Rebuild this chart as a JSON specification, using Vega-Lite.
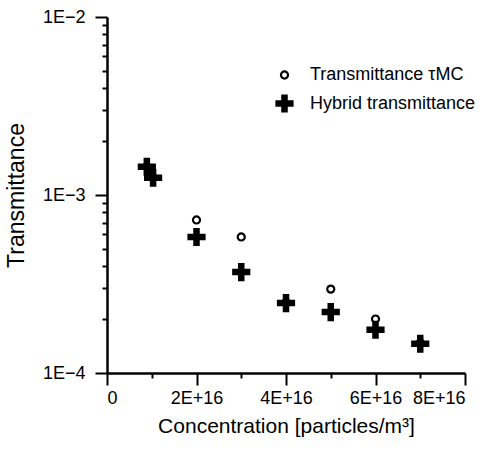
{
  "$schema": "https://vega.github.io/schema/vega-lite/v6.json",
  "width": 358,
  "height": 356,
  "autosize": {"type": "none"},
  "padding": {"left": 107, "top": 17, "right": 23, "bottom": 78},
  "background": "white",
  "config": {
    "view": {"stroke": null},
    "font": "Liberation Sans",
    "axis": {"grid": false, "domainColor": "black", "tickColor": "black", "labelColor": "black", "titleColor": "black", "labelFont": "Liberation Sans", "titleFont": "Liberation Sans", "titleFontWeight": "normal"},
    "legend": {"padding": 0}
  },
  "data": {
    "values": [
      {"series": "Transmittance τMC", "c": 0.89e16, "t": 1.44e-3},
      {"series": "Transmittance τMC", "c": 1.03e16, "t": 1.25e-3},
      {"series": "Transmittance τMC", "c": 2e16, "t": 7.24e-4},
      {"series": "Transmittance τMC", "c": 3e16, "t": 5.81e-4},
      {"series": "Transmittance τMC", "c": 4e16, "t": 2.5e-4},
      {"series": "Transmittance τMC", "c": 5e16, "t": 2.96e-4},
      {"series": "Transmittance τMC", "c": 6e16, "t": 2.01e-4},
      {"series": "Transmittance τMC", "c": 7e16, "t": 1.48e-4},
      {"series": "Hybrid transmittance", "c": 0.89e16, "t": 1.44e-3},
      {"series": "Hybrid transmittance", "c": 1.03e16, "t": 1.25e-3},
      {"series": "Hybrid transmittance", "c": 2e16, "t": 5.81e-4},
      {"series": "Hybrid transmittance", "c": 3e16, "t": 3.69e-4},
      {"series": "Hybrid transmittance", "c": 4e16, "t": 2.47e-4},
      {"series": "Hybrid transmittance", "c": 5e16, "t": 2.2e-4},
      {"series": "Hybrid transmittance", "c": 6e16, "t": 1.75e-4},
      {"series": "Hybrid transmittance", "c": 7e16, "t": 1.46e-4}
    ]
  },
  "mark": {"type": "point", "strokeWidth": 2.2, "opacity": 1},
  "encoding": {
    "x": {"field": "c", "type": "quantitative", "scale": {"domain": [0, 8e16], "nice": false, "zero": false},
      "axis": {"orient": "bottom", "values": [0, 1e16, 2e16, 3e16, 4e16, 5e16, 6e16, 7e16, 8e16],
        "labelExpr": "datum.value == 0 ? '0' : (datum.value % 2e16 != 0 ? '' : (datum.value/1e16) + 'E+16')",
        "tickSize": {"condition": {"test": "datum.value % 2e16 != 0", "value": 5}, "value": 12},
        "domainWidth": 2.5, "tickWidth": 2, "labelFontSize": 18, "labelPadding": 4, "labelOverlap": false,
        "title": "Concentration [particles/m³]", "titleFontSize": 21, "titlePadding": 8}},
    "y": {"field": "t", "type": "quantitative", "scale": {"type": "log", "domain": [1e-4, 1e-2], "nice": false},
      "axis": {"orient": "left", "values": [1e-4, 2e-4, 3e-4, 4e-4, 5e-4, 6e-4, 7e-4, 8e-4, 9e-4, 1e-3, 2e-3, 3e-3, 4e-3, 5e-3, 6e-3, 7e-3, 8e-3, 9e-3, 1e-2],
        "labelExpr": "abs(datum.value - 0.01) < 1e-9 ? '1E−2' : abs(datum.value - 0.001) < 1e-10 ? '1E−3' : abs(datum.value - 0.0001) < 1e-11 ? '1E−4' : ''",
        "tickSize": {"condition": {"test": "abs(datum.value - 0.01) < 1e-9 || abs(datum.value - 0.001) < 1e-10 || abs(datum.value - 0.0001) < 1e-11", "value": 12}, "value": 5},
        "domainWidth": 2.5, "tickWidth": 2, "labelFontSize": 18, "labelPadding": 10, "labelOverlap": false,
        "title": "Transmittance", "titleFontSize": 23, "titlePadding": 14}},
    "shape": {"field": "series", "type": "nominal", "scale": {"domain": ["Transmittance τMC", "Hybrid transmittance"], "range": ["circle", "M-0.27,-1H0.27V-0.27H1V0.27H0.27V1H-0.27V0.27H-1V-0.27H-0.27Z"]},
      "legend": {"orient": "none", "legendX": 168, "legendY": 49, "title": null, "labelFontSize": 18, "labelColor": "black", "labelLimit": 400, "symbolStrokeWidth": 2.2, "rowPadding": 7, "labelOffset": 16}},
    "fill": {"field": "series", "type": "nominal", "scale": {"domain": ["Transmittance τMC", "Hybrid transmittance"], "range": ["white", "black"]},
      "legend": {"orient": "none", "legendX": 168, "legendY": 49, "title": null, "labelFontSize": 18, "labelColor": "black", "labelLimit": 400, "symbolStrokeWidth": 2.2, "rowPadding": 7, "labelOffset": 16}},
    "size": {"field": "series", "type": "nominal", "scale": {"domain": ["Transmittance τMC", "Hybrid transmittance"], "range": [50, 256]},
      "legend": {"orient": "none", "legendX": 168, "legendY": 49, "title": null, "labelFontSize": 18, "labelColor": "black", "labelLimit": 400, "symbolStrokeWidth": 2.2, "rowPadding": 7, "labelOffset": 16}},
    "color": {"value": "black"}
  }
}
